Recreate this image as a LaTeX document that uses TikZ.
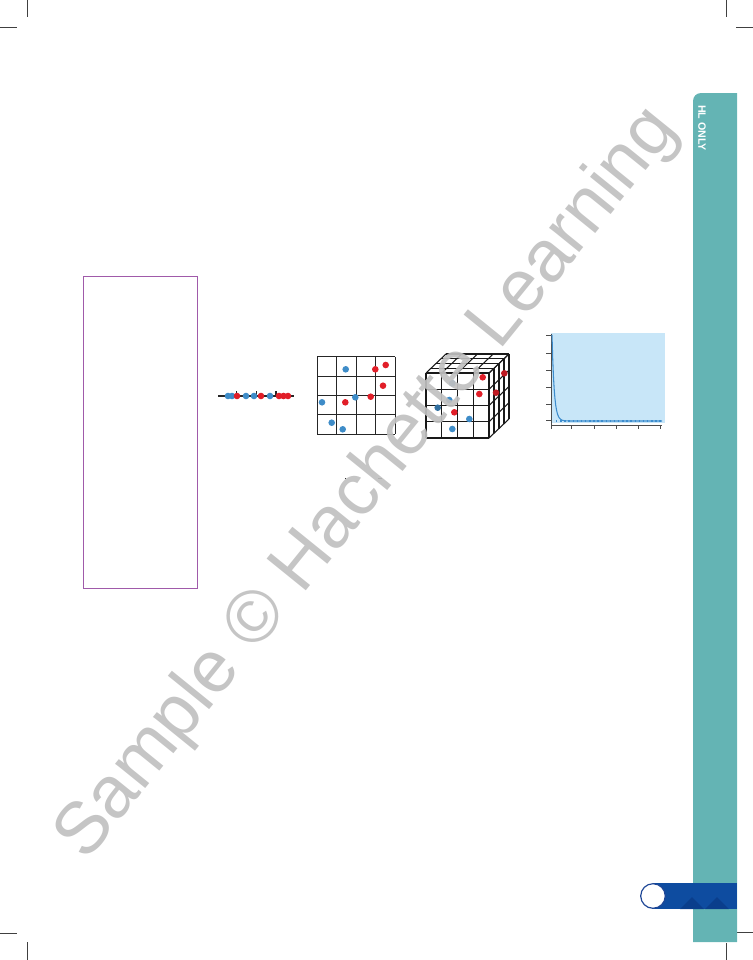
\documentclass[tikz,border=0pt]{standalone}
\usepackage{fontspec}
\setmainfont{Liberation Sans}
\begin{document}
\begin{tikzpicture}[x=0.75pt,y=-0.75pt]
\definecolor{tealstrip}{RGB}{100,180,180}
\definecolor{barblue}{RGB}{14,76,160}
\definecolor{bardark}{RGB}{10,62,140}
\definecolor{circblue}{RGB}{30,70,150}
\definecolor{purp}{RGB}{160,90,170}
\definecolor{dotblue}{RGB}{62,140,200}
\definecolor{dotred}{RGB}{225,30,40}
\definecolor{chartbg}{RGB}{200,230,248}
\definecolor{curveblue}{RGB}{60,140,205}
\definecolor{wmgray}{RGB}{192,192,192}
\tikzset{
  crop/.style={draw=black!75,line width=0.75pt},
  gl/.style={draw=black!85,line width=0.8pt},
  cl/.style={draw=black!90,line width=0.8pt},
  bdot/.style={fill=dotblue,draw=none},
  rdot/.style={fill=dotred,draw=none},
  axisline/.style={draw=black!70,line width=0.6pt}
}
\useasboundingbox (0,0) rectangle (753,960);
% crop marks
\draw[crop] (27,0) -- (27,17); \draw[crop] (0,27) -- (17,27);
\draw[crop] (726,0) -- (726,17); \draw[crop] (736,27) -- (753,27);
\draw[crop] (0,933) -- (17,933); \draw[crop] (27,942) -- (27,960);
\draw[crop] (736,932) -- (753,932); \draw[crop] (726,943) -- (726,960);
% teal strip
\fill[tealstrip] (693,942) -- (693,101) arc[start angle=180,end angle=270,radius=8] -- (737,93) -- (737,942) -- cycle;
\node[rotate=-90, text=white, font=\bfseries\fontsize{8}{8}\selectfont] (hl) at (702,128) {HL ONLY};
% bottom bar
\fill[barblue] (653,883) rectangle (737,909);
\fill[bardark] (680,909) -- (692,897) -- (704,909) -- cycle;
\fill[bardark] (705,909) -- (717,897) -- (729,909) -- cycle;
\draw[fill=white, draw=circblue, line width=0.9pt] (653,896) circle[radius=12.3];
% purple box
\draw[purp, line width=0.75pt] (83,276) rectangle (197,588);
% 1D line
\draw[black!85, line width=0.8pt] (218,396) -- (294,396);
\foreach \t in {236.7,256.7,276} { \draw[black!85, line width=0.8pt] (\t,396) -- (\t,391); }
\foreach \p in {228,232,246,254,270} { \fill[bdot] (\p,396) circle[radius=3.3]; }
\foreach \p in {237,261,279,283.5,288} { \fill[rdot] (\p,396) circle[radius=3.3]; }
% 2D grid
\foreach \i in {0,...,4} {
  \draw[gl] ({317.3+19.5*\i},356.7) -- ({317.3+19.5*\i},434.3);
  \draw[gl] (317.3,{356.7+19.4*\i}) -- (395.3,{356.7+19.4*\i});
}
\draw[black!85, line width=1.2pt] (317.3,395.5) -- (395.3,395.5);
\foreach \a/\b in {345.7/369.3, 355.3/397.3, 322/402.3, 331.7/422.7, 342.7/429.3} { \fill[bdot] (\a,\b) circle[radius=3.3]; }
\foreach \a/\b in {375.3/369.3, 385.7/365, 383/385.7, 370.7/396.7, 345.3/402.3} { \fill[rdot] (\a,\b) circle[radius=3.3]; }
\fill[black] (345.7,478.5) circle[radius=0.5];
\draw[black, line width=0.6pt] (378,478) -- (382,478);
% 3D cube
\foreach \i in {0,...,4} {
  \draw[cl] ({426+15.75*\i},373) -- ({426+15.75*\i},438);
  \draw[cl] (426,{373+16.25*\i}) -- (489,{373+16.25*\i});
  \draw[cl] ({426+15.75*\i},373) -- ({446+15.75*\i},354);
  \draw[cl] ({426+5*\i},{373-4.75*\i}) -- ({489+5*\i},{373-4.75*\i});
  \draw[cl] (489,{373+16.25*\i}) -- (509,{354+16.25*\i});
  \draw[cl] ({489+5*\i},{373-4.75*\i}) -- ({489+5*\i},{438-4.75*\i});
}
\foreach \a/\b in {452.3/383.3, 449.3/400, 469.3/419, 452.3/429} { \fill[bdot] (\a,\b) circle[radius=3.3]; }
\fill[dotblue!80!black] (437.7,407.7) circle[radius=3.3];
\foreach \a/\b in {482.7/377.3, 479.3/394, 454.3/412.3} { \fill[rdot] (\a,\b) circle[radius=3.3]; }
\foreach \a/\b in {504.3/373.3, 496/392.7} { \fill[dotred!85!black] (\a,\b) circle[radius=3.3]; }
% chart
\fill[chartbg] (551,333.3) rectangle (665,423.3);
\draw[axisline] (551,334) -- (551,425) -- (662,425);
\foreach \y in {335,353.3,370.7,387.3,404,420.7} { \draw[axisline] (546,\y) -- (551,\y); }
\foreach \x in {551,571.7,594,616,638.3,660} { \draw[axisline] (\x,425) -- (\x,428.5); }
\draw[curveblue, line width=0.8pt] plot[domain=552:662, samples=150] (\x, {421-86*exp(-(\x-552)/2.2)});
\draw[curveblue, dotted, line width=1.1pt] (556,421) -- (662,421);
% watermark
\node[rotate=51, text=wmgray, font=\fontsize{55}{55}\selectfont, opacity=0.92] (wm) at (368,484) {Sample © Hachette Learning};
\end{tikzpicture}
\end{document}
